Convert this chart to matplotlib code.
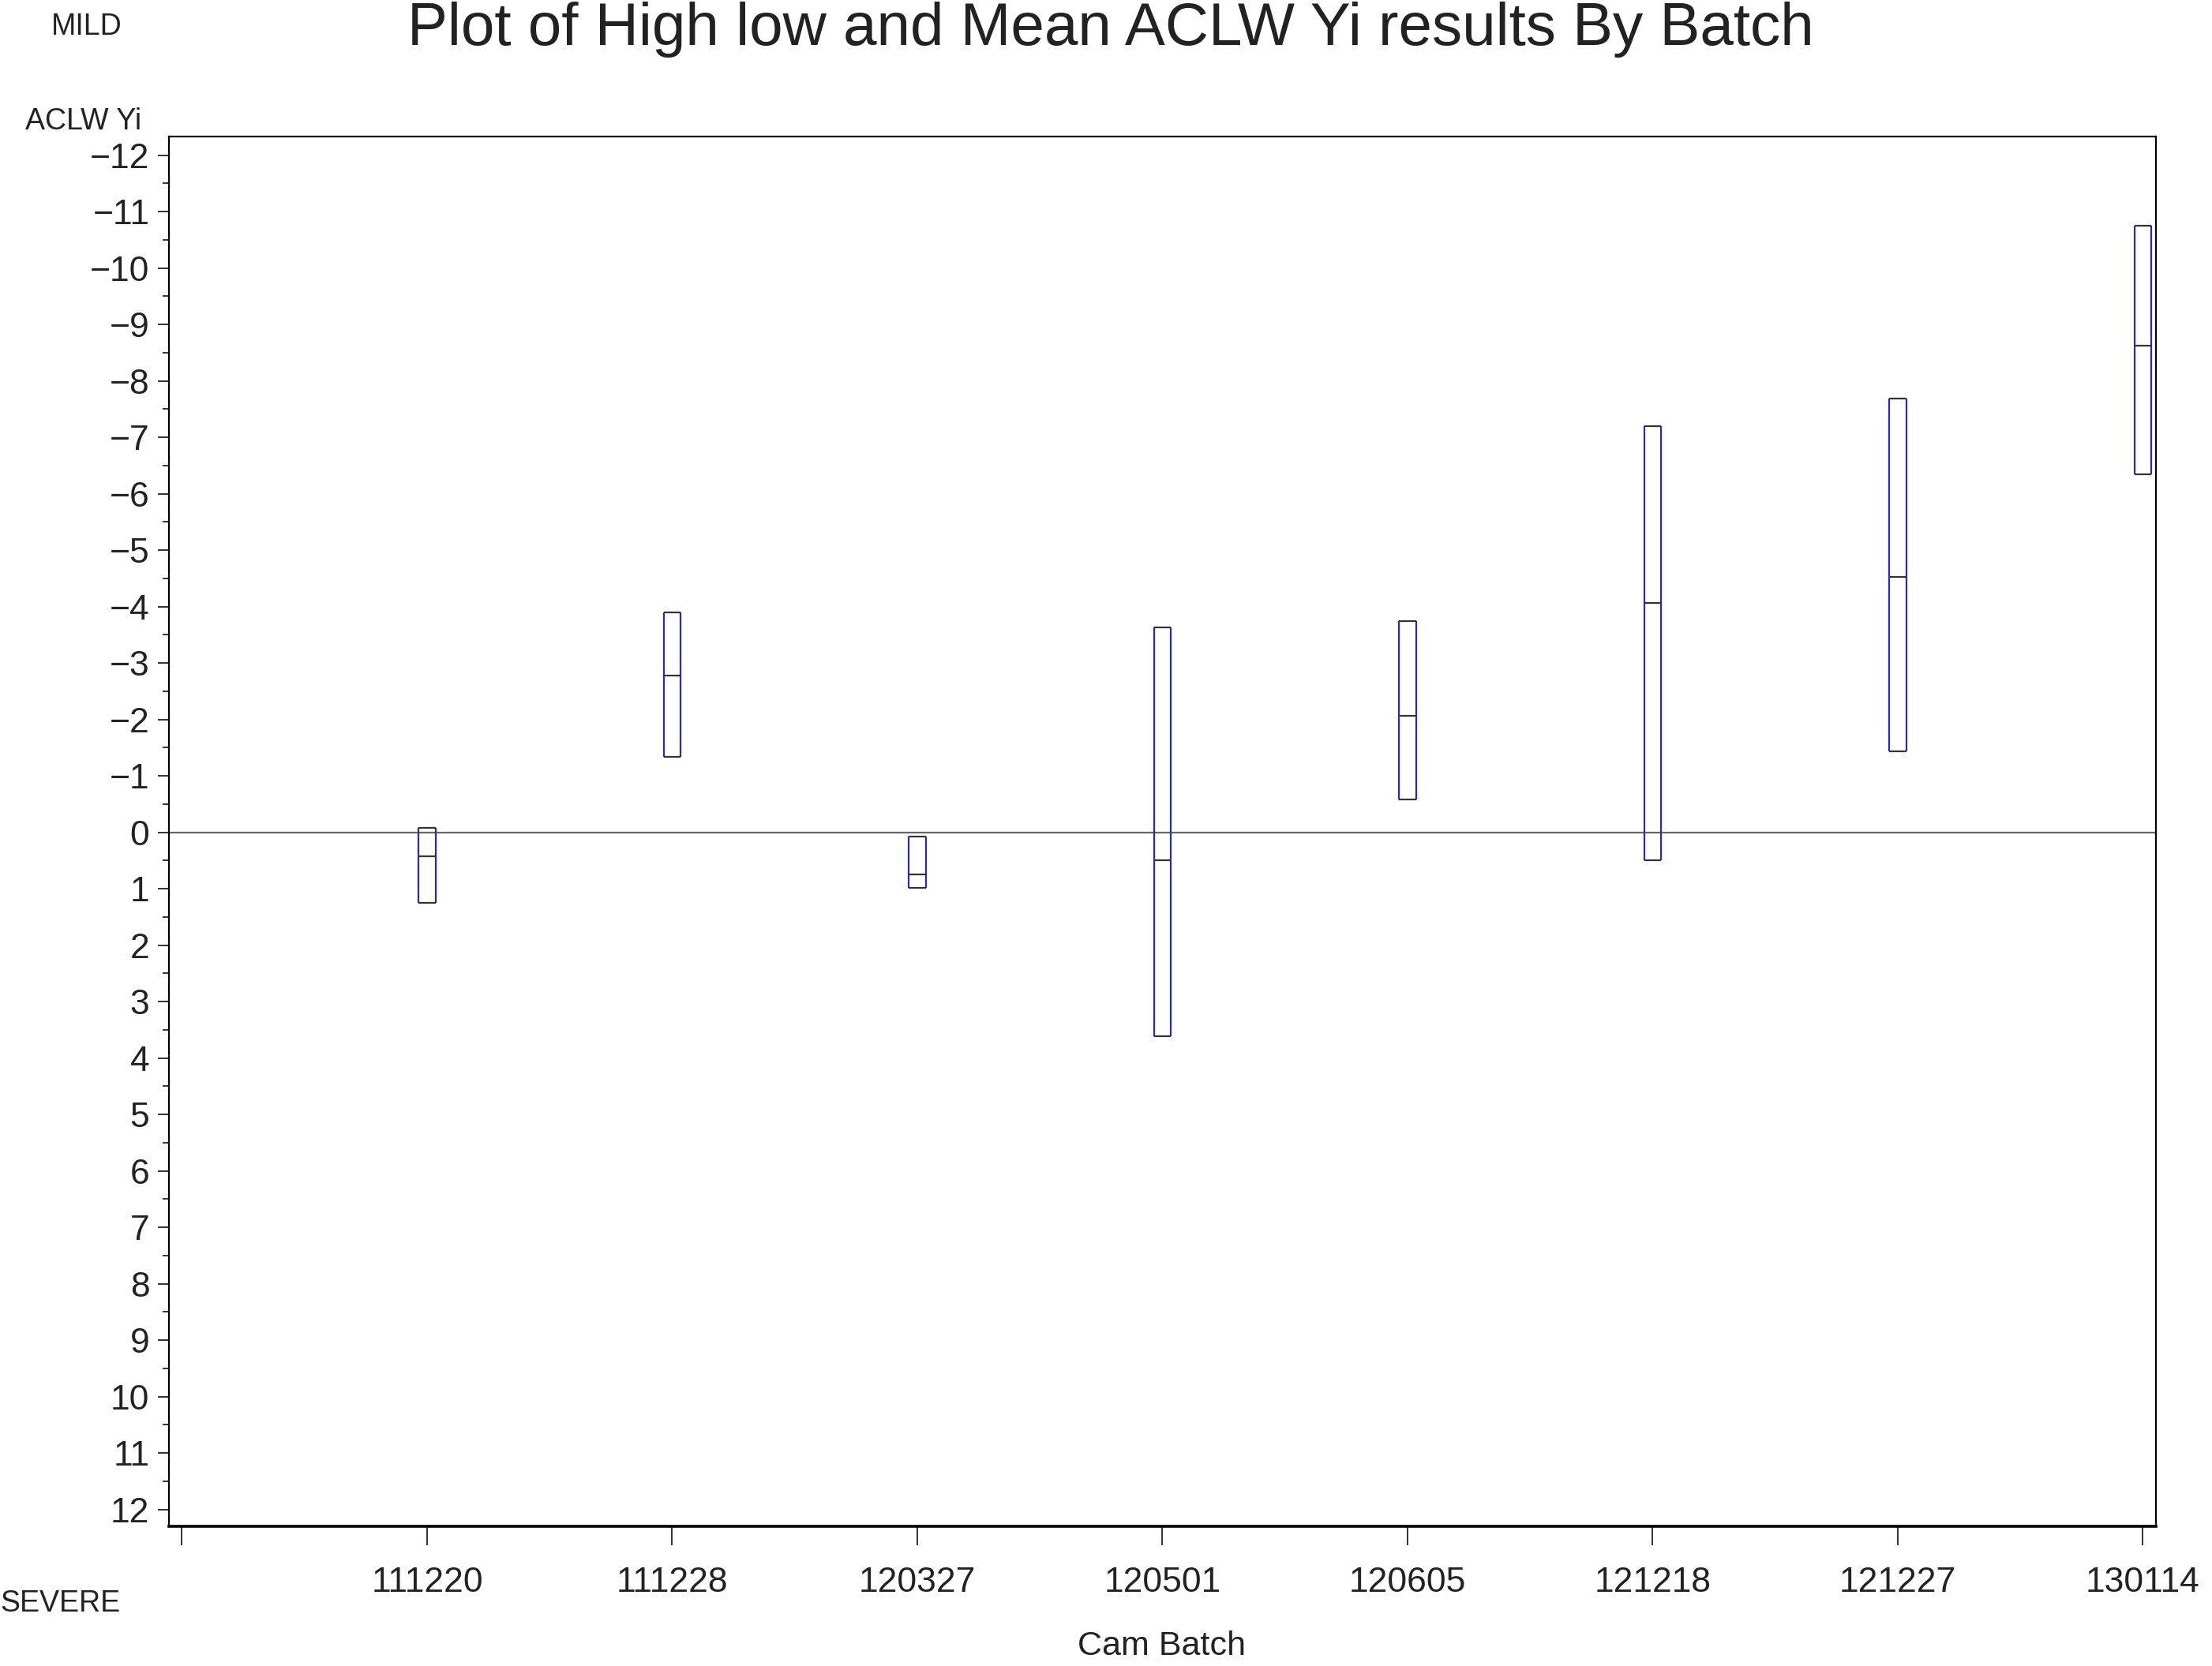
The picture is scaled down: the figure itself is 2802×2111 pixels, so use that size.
import numpy as np
import matplotlib
matplotlib.use("Agg")
import matplotlib.pyplot as plt
from matplotlib.ticker import MultipleLocator

plt.rcParams['font.family'] = ['Liberation Sans', 'DejaVu Sans']

# values (y axis runs MILD (negative, top) -> SEVERE (positive, bottom))
batches = ['111220', '111228', '120327', '120501', '120605', '121218', '121227', '130114']
high_vals = [-0.08, -3.90, 0.08, -3.63, -3.74, -7.20, -7.68, -10.75]
mean_vals = [0.42, -2.78, 0.75, 0.49, -2.06, -4.07, -4.53, -8.62]
low_vals = [1.25, -1.33, 0.99, 3.62, -0.58, 0.49, -1.43, -6.35]
y_ticks = list(range(-12, 13))

fig = plt.figure(figsize=(28.02, 21.11), dpi=100)
ax = fig.add_axes([0.0765, 0.0838, 0.898, 0.8341])

xpos = np.arange(1, len(batches) + 1)
hw = 0.035
blue = '#2a2ab8'
dark = '#333333'

ax.axhline(0, color='#666666', lw=1.6, zorder=1)

# box sides (hi-lo) in blue, top/bottom/mean in black
ax.vlines(xpos - hw, high_vals, low_vals, color=blue, lw=1.6, zorder=3)
ax.vlines(xpos + hw, high_vals, low_vals, color=blue, lw=1.6, zorder=3)
for arr in (high_vals, mean_vals, low_vals):
    ax.hlines(arr, xpos - hw, xpos + hw, color=dark, lw=1.6, zorder=4)

ax.set_xlim(-0.052, 8.052)
ax.set_ylim(12.3, -12.325)

ax.set_xticks(np.arange(0, len(batches) + 1))
ax.set_xticklabels([''] + batches)
ax.set_yticks(y_ticks)
ax.set_yticklabels([str(v).replace('-', '\u2212') for v in y_ticks])
ax.yaxis.set_minor_locator(MultipleLocator(0.5))

ax.tick_params(axis='x', direction='out', length=17, width=1.3, pad=20, labelsize=32, colors='#222222')
ax.tick_params(axis='y', which='major', direction='out', length=10, width=1.3, pad=8, labelsize=32, colors='#222222')
ax.tick_params(axis='y', which='minor', direction='out', length=6, width=1.1)

for side in ['left', 'right', 'top']:
    ax.spines[side].set_linewidth(1.6)
ax.spines['bottom'].set_linewidth(2.6)

fig.text(0.502, 0.999, 'Plot of High low and Mean ACLW Yi results By Batch', ha='center', va='top', fontsize=55, color='#222222')
fig.text(0.039, 0.984, 'MILD', ha='center', va='center', fontsize=27, color='#222222')
fig.text(0.0274, 0.0373, 'SEVERE', ha='center', va='center', fontsize=27, color='#222222')
fig.text(0.0376, 0.927, 'ACLW Yi', ha='center', va='center', fontsize=27, color='#222222')
fig.text(0.525, 0.0119, 'Cam Batch', ha='center', va='center', fontsize=31, color='#222222')

fig.savefig('out.png', dpi=100)
